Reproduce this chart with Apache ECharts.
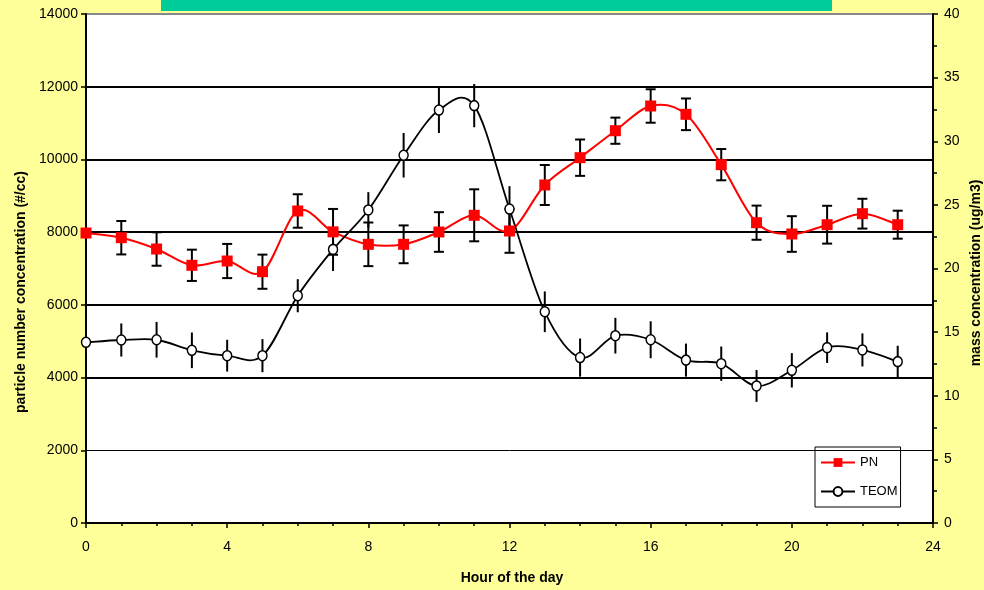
<!DOCTYPE html>
<html>
<head>
<meta charset="utf-8">
<script src="https://cdn.jsdelivr.net/npm/echarts@6/dist/echarts.min.js"></script>
<style>
html,body{margin:0;padding:0;background:#FFFF99;}
#chart{width:984px;height:590px;}
</style>
</head>
<body>
<div id="chart"></div>
<script>
var hours = [0,1,2,3,4,5,6,7,8,9,10,11,12,13,14,15,16,17,18,19,20,21,22,23];
var pnMean = [7976,7847,7536,7088,7206,6912,8582,8008,7665,7665,8004,8463,8032,9297,10048,10790,11470,11241,9856,8260,7949,8205,8508,8205];
var pnErr  = [0,460,460,430,470,470,460,630,600,520,545,715,600,550,500,360,460,435,430,470,490,520,410,385];
var teomMean = [14.2,14.38,14.4,13.57,13.15,13.15,17.86,21.5,24.6,28.9,32.45,32.8,24.67,16.6,13.0,14.72,14.4,12.8,12.52,10.77,12.0,13.78,13.6,12.68];
var teomErr  = [0,1.3,1.4,1.4,1.25,1.3,1.3,1.7,1.4,1.75,1.8,1.7,1.8,1.6,1.5,1.4,1.45,1.3,1.35,1.25,1.35,1.2,1.3,1.25];
var xTicks = [0,4,8,12,16,20,24];
var leftTicks = [0,2000,4000,6000,8000,10000,12000,14000];
var rightTicks = [0,5,10,15,20,25,30,35,40];

var FONT = 'Liberation Sans, Arial, sans-serif';
function pairs(xs, ys){ return xs.map(function(x,i){ return [x, ys[i]]; }); }
function errData(xs, m, e){ return xs.map(function(x,i){ return [x, m[i]-e[i], m[i]+e[i]]; }); }
function segData(xs){ return xs.slice(0, xs.length-1).map(function(x,i){ return [x, i]; }); }

function errRender(cap){
  return function(params, api){
    var x = api.value(0);
    var lo = api.coord([x, api.value(1)]);
    var hi = api.coord([x, api.value(2)]);
    if (Math.abs(lo[1]-hi[1]) < 0.5) return null;
    var st = {stroke:'#000', lineWidth:2};
    var kids = [{type:'line', shape:{x1:lo[0],y1:lo[1],x2:hi[0],y2:hi[1]}, style:st}];
    if (cap){
      kids.push({type:'line', shape:{x1:lo[0]-5,y1:lo[1],x2:lo[0]+5,y2:lo[1]}, style:st});
      kids.push({type:'line', shape:{x1:hi[0]-5,y1:hi[1],x2:hi[0]+5,y2:hi[1]}, style:st});
    }
    return {type:'group', children:kids};
  };
}

// smooth curve segment (cardinal spline) drawn through the axis scales
function curveRender(xs, ys, color, width){
  return function(params, api){
    var i = api.value(1);
    var n = xs.length;
    function P(k){ k = Math.max(0, Math.min(n-1, k)); return api.coord([xs[k], ys[k]]); }
    var p0 = P(i-1), p1 = P(i), p2 = P(i+1), p3 = P(i+2);
    var t = 1/6;
    var c1 = [p1[0] + (p2[0]-p0[0])*t, p1[1] + (p2[1]-p0[1])*t];
    var c2 = [p2[0] - (p3[0]-p1[0])*t, p2[1] - (p3[1]-p1[1])*t];
    return {type:'bezierCurve', shape:{x1:p1[0],y1:p1[1],x2:p2[0],y2:p2[1],cpx1:c1[0],cpy1:c1[1],cpx2:c2[0],cpy2:c2[1]},
            style:{stroke:color, lineWidth:width, fill:null}};
  };
}

var chart = echarts.init(document.getElementById('chart'), null, {renderer:'canvas'});
chart.setOption({
  backgroundColor:'#FFFF99',
  animation:false,
  textStyle:{fontFamily:FONT},
  grid:{left:86, right:51, top:14, bottom:67, show:true, backgroundColor:'#fff', borderWidth:0},
  legend:{
    data:[
      {name:'PN', lineStyle:{opacity:1, color:'#FF0000', width:2}},
      {name:'TEOM', lineStyle:{opacity:1, color:'#000', width:2}}
    ],
    orient:'vertical', left:815, top:447,
    backgroundColor:'#fff', borderColor:'#000', borderWidth:1, borderRadius:0,
    padding:[9,3,9,5], itemGap:16, itemWidth:34, itemHeight:11,
    textStyle:{fontFamily:FONT, fontSize:13, color:'#000', padding:[0,0,0,0]}
  },
  xAxis:{
    type:'value', min:xTicks[0], max:xTicks[xTicks.length-1], interval:4,
    axisLine:{show:true, onZero:false, lineStyle:{color:'#000', width:2}},
    axisTick:{show:true, length:5, lineStyle:{color:'#000', width:1.5}},
    minorTick:{show:true, splitNumber:4, length:3, lineStyle:{color:'#000', width:1.5}},
    axisLabel:{color:'#000', fontSize:14, margin:17, fontFamily:FONT},
    splitLine:{show:false}
  },
  yAxis:[{
    type:'value', min:leftTicks[0], max:leftTicks[leftTicks.length-1], interval:2000,
    axisLine:{show:true, lineStyle:{color:'#000', width:2}},
    axisTick:{show:true, length:5, lineStyle:{color:'#000', width:1.5}},
    axisLabel:{color:'#000', fontSize:14, margin:8, fontFamily:FONT, formatter:function(v){ return String(v); }},
    splitLine:{show:true, lineStyle:{color:['#000','rgba(0,0,0,0)','#000','#000','#000','#000','#000','#888'], width:2}}
  },{
    type:'value', min:rightTicks[0], max:rightTicks[rightTicks.length-1], interval:5, position:'right',
    axisLine:{show:true, lineStyle:{color:'#000', width:2}},
    axisTick:{show:true, length:5, lineStyle:{color:'#000', width:1.5}},
    minorTick:{show:true, splitNumber:2, length:4, lineStyle:{color:'#000', width:1.5}},
    axisLabel:{color:'#000', fontSize:14, margin:11, fontFamily:FONT},
    splitLine:{show:false}
  }],
  graphic:[
    {type:'rect', left:161, top:0, shape:{width:671, height:11}, style:{fill:'#00CC99'}, z:10},
    {type:'text', x:21, y:292, rotation:Math.PI/2, style:{text:'particle number concentration (#/cc)', font:'bold 14px '+FONT, fill:'#000', textAlign:'center', textVerticalAlign:'middle'}},
    {type:'text', x:976, y:273, rotation:Math.PI/2, style:{text:'mass concentration (ug/m3)', font:'bold 14px '+FONT, fill:'#000', textAlign:'center', textVerticalAlign:'middle'}},
    {type:'text', x:512, y:578, style:{text:'Hour of the day', font:'bold 14px '+FONT, fill:'#000', textAlign:'center', textVerticalAlign:'middle'}}
  ],
  series:[
    {type:'custom', yAxisIndex:0, data:errData(hours,pnMean,pnErr), renderItem:errRender(true), z:2,
     markLine:{silent:true, symbol:'none', label:{show:false}, lineStyle:{color:'#000', width:1, type:'solid'}, data:[{yAxis:leftTicks[1]}]}},
    {type:'custom', yAxisIndex:1, data:errData(hours,teomMean,teomErr), renderItem:errRender(false), z:2},
    {type:'custom', yAxisIndex:0, data:segData(hours), renderItem:curveRender(hours,pnMean,'#FF0000',2), z:3, clip:true},
    {type:'custom', yAxisIndex:1, data:segData(hours), renderItem:curveRender(hours,teomMean,'#000',1.8), z:3, clip:true},
    {name:'PN', type:'line', yAxisIndex:0, data:pairs(hours,pnMean), z:4,
     symbol:'rect', symbolSize:11, showAllSymbol:true,
     lineStyle:{color:'#FF0000', width:2, opacity:0}, itemStyle:{color:'#FF0000', borderWidth:0}},
    {name:'TEOM', type:'line', yAxisIndex:1, data:pairs(hours,teomMean), z:5,
     symbol:'circle', symbolSize:[9,10], showAllSymbol:true,
     lineStyle:{color:'#000', width:1.8, opacity:0}, itemStyle:{color:'#fff', borderColor:'#000', borderWidth:1.5}}
  ]
});
</script>
</body>
</html>
